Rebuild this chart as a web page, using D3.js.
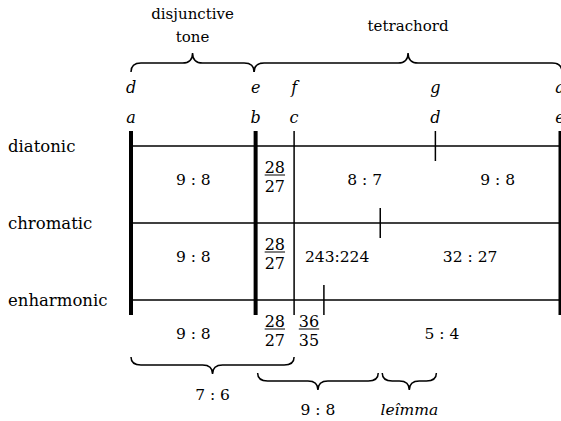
<!DOCTYPE html>
<html>
<head>
<meta charset="utf-8">
<script src="https://cdn.jsdelivr.net/npm/d3@7"></script>
<style>
html,body{margin:0;padding:0;background:#fff;}
svg{display:block;}
svg text{font-family:"DejaVu Serif";}
</style>
</head>
<body>
<svg id="chart" width="561" height="421"></svg>
<script>
// ---- data ----
const genera = ["diatonic", "chromatic", "enharmonic"];
const disjunctiveTone = [9, 8];
const diatonicIntervals = [[28, 27], [8, 7], [9, 8]];
const chromaticIntervals = [[28, 27], [243, 224], [32, 27]];
const enharmonicIntervals = [[28, 27], [36, 35], [5, 4]];
const upperNotes = ["d", "e", "f", "g", "a"];
const lowerNotes = ["a", "b", "c", "d", "e"];
const topBraceLabels = [["disjunctive", "tone"], ["tetrachord"]];
const bottomBraceLabels = ["7 : 6", "9 : 8", "leîmma"];

const intervalsByGenus = [diatonicIntervals, chromaticIntervals, enharmonicIntervals];

function cumulative(intervals) {
  const out = [1, disjunctiveTone[0] / disjunctiveTone[1]];
  intervals.forEach(([n, d]) => out.push(out[out.length - 1] * n / d));
  return out;
}
const bounds = intervalsByGenus.map(cumulative);
const diatonicBounds = bounds[0];

const svg = d3.select("#chart");
const x = d3.scaleLog().domain([1, 3 / 2]).range([131, 560]);
const y = d3.scalePoint().domain(genera).range([146, 300]);
const lineTop = 131, lineBottom = 315, tickHalf = 15;

svg.selectAll("line.row").data(genera).join("line")
  .attr("x1", x(1)).attr("x2", x(1.5))
  .attr("y1", d => y(d)).attr("y2", d => y(d))
  .attr("stroke", "#000").attr("stroke-width", 1.3);

const fullLines = [
  {r: diatonicBounds[0], w: 4},
  {r: diatonicBounds[1], w: 4},
  {r: diatonicBounds[2], w: 1.5},
  {r: diatonicBounds[4], w: 3}
];
svg.selectAll("line.full").data(fullLines).join("line")
  .attr("x1", d => x(d.r)).attr("x2", d => x(d.r))
  .attr("y1", lineTop).attr("y2", lineBottom)
  .attr("stroke", "#000").attr("stroke-width", d => d.w);

svg.selectAll("line.tick").data(genera).join("line")
  .attr("x1", (g, i) => x(bounds[i][3])).attr("x2", (g, i) => x(bounds[i][3]))
  .attr("y1", g => y(g) - tickHalf).attr("y2", g => y(g) + tickHalf)
  .attr("stroke", "#000").attr("stroke-width", 1.5);

svg.selectAll("text.genus").data(genera).join("text")
  .attr("x", 8).attr("y", g => y(g) + 6)
  .style("font-size", "16.5px").text(g => g);

svg.selectAll("text.up").data(upperNotes).join("text")
  .attr("x", (d, i) => x(diatonicBounds[i])).attr("y", 93)
  .attr("text-anchor", "middle").style("font-style", "italic").style("font-size", "16px")
  .text(d => d);
svg.selectAll("text.low").data(lowerNotes).join("text")
  .attr("x", (d, i) => x(diatonicBounds[i])).attr("y", 123)
  .attr("text-anchor", "middle").style("font-style", "italic").style("font-size", "16px")
  .text(d => d);

genera.forEach((g, gi) => {
  const b = bounds[gi];
  const ints = [disjunctiveTone].concat(intervalsByGenus[gi]);
  const base = y(g) + 39;
  ints.forEach(([n, d], k) => {
    const x0 = x(b[k]), x1 = x(b[k + 1]);
    const cx = (x0 + x1) / 2;
    if (x1 - x0 < 45) {
      const num = svg.append("text").attr("x", cx).attr("y", base - 12)
        .attr("text-anchor", "middle").style("font-size", "16px").text(n);
      const w = num.node().getComputedTextLength();
      svg.append("line").attr("x1", cx - w / 2).attr("x2", cx + w / 2)
        .attr("y1", base - 10).attr("y2", base - 10)
        .attr("stroke", "#000").attr("stroke-width", 1);
      svg.append("text").attr("x", cx).attr("y", base + 7)
        .attr("text-anchor", "middle").style("font-size", "16px").text(d);
    } else {
      const label = n > 99 ? `${n}:${d}` : `${n} : ${d}`;
      svg.append("text").attr("x", cx).attr("y", base)
        .attr("text-anchor", "middle").style("font-size", "15.5px").text(label);
    }
  });
});

function brace(x1, x2, yEnd, dir, h) {
  const yf = yEnd + dir * h * 0.47;
  const yt = yEnd + dir * h;
  const xm = (x1 + x2) / 2;
  const r = Math.min(10, (x2 - x1) / 4);
  return `M${x1},${yEnd} Q${x1},${yf} ${x1 + r},${yf} L${xm - r},${yf} Q${xm},${yf} ${xm},${yt} ` +
         `Q${xm},${yf} ${xm + r},${yf} L${x2 - r},${yf} Q${x2},${yf} ${x2},${yEnd}`;
}

const topBraces = [
  {x1: x(diatonicBounds[0]), x2: x(diatonicBounds[1]) - 1.5, labels: topBraceLabels[0]},
  {x1: x(diatonicBounds[1]) - 1.5, x2: x(diatonicBounds[4]) + 2, labels: topBraceLabels[1]}
];
topBraces.forEach(bd => {
  svg.append("path").attr("d", brace(bd.x1, bd.x2, 72, -1, 19))
    .attr("fill", "none").attr("stroke", "#000").attr("stroke-width", 1.5);
  const cx = (bd.x1 + bd.x2) / 2;
  if (bd.labels.length === 2) {
    svg.append("text").attr("x", cx).attr("y", 19).attr("text-anchor", "middle")
      .style("font-size", "15px").text(bd.labels[0]);
    svg.append("text").attr("x", cx).attr("y", 42).attr("text-anchor", "middle")
      .style("font-size", "15px").text(bd.labels[1]);
  } else {
    svg.append("text").attr("x", cx).attr("y", 31).attr("text-anchor", "middle")
      .style("font-size", "15px").text(bd.labels[0]);
  }
});

const chromaticD = bounds[1][3];
const bottomBraces = [
  {x1: x(diatonicBounds[0]), x2: x(diatonicBounds[2]), yEnd: 357, base: 400, label: bottomBraceLabels[0], it: false},
  {x1: x(diatonicBounds[1]) + 2, x2: x(chromaticD) - 2, yEnd: 373, base: 415, label: bottomBraceLabels[1], it: false},
  {x1: x(chromaticD) + 2, x2: x(diatonicBounds[3]) + 1, yEnd: 373, base: 415, label: bottomBraceLabels[2], it: true}
];
bottomBraces.forEach(bd => {
  svg.append("path").attr("d", brace(bd.x1, bd.x2, bd.yEnd, 1, 17))
    .attr("fill", "none").attr("stroke", "#000").attr("stroke-width", 1.5);
  svg.append("text").attr("x", (bd.x1 + bd.x2) / 2).attr("y", bd.base)
    .attr("text-anchor", "middle").style("font-size", "15.5px")
    .style("font-style", bd.it ? "italic" : "normal").text(bd.label);
});
</script>
</body>
</html>
